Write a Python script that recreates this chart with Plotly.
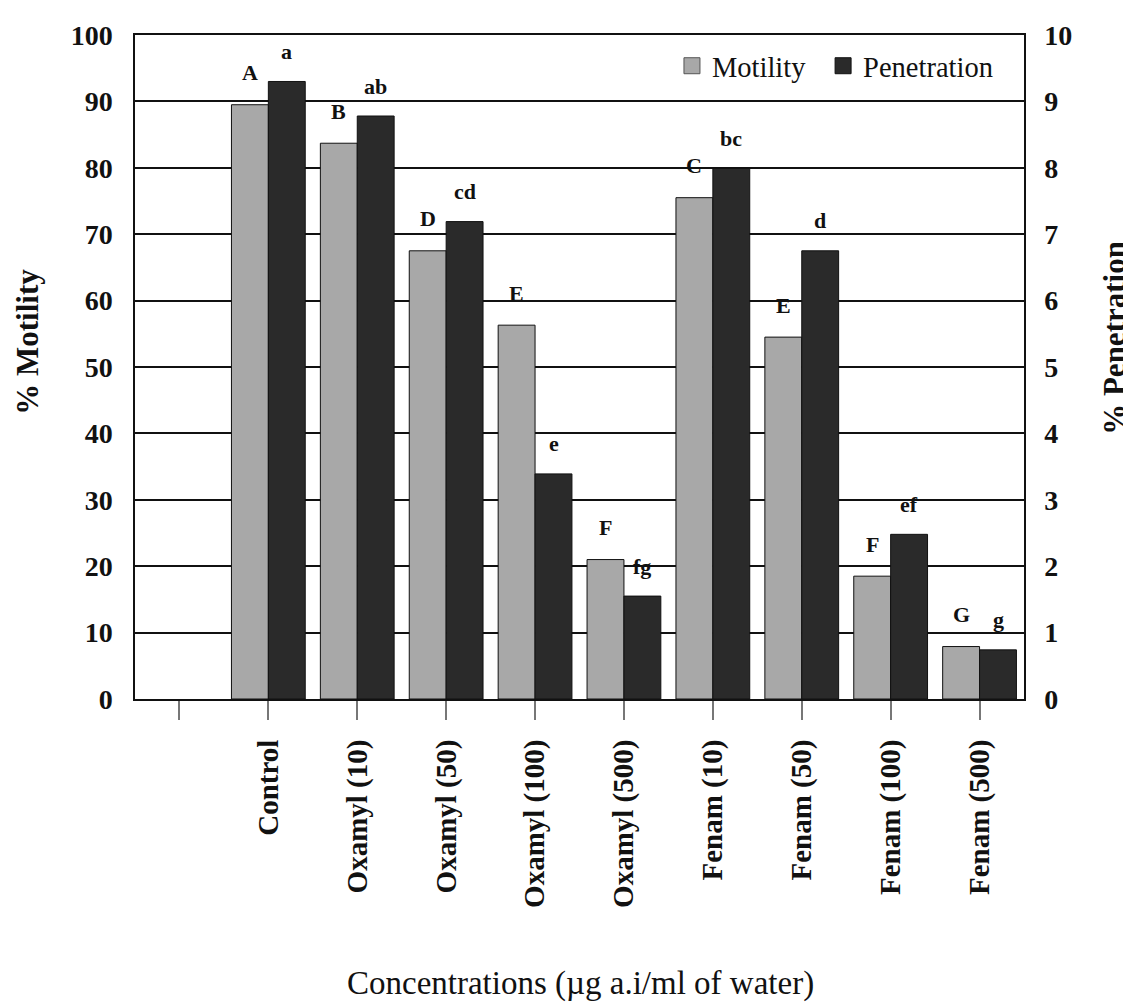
import plotly.graph_objects as go

categories = ["Control", "Oxamyl (10)", "Oxamyl (50)", "Oxamyl (100)", "Oxamyl (500)",
              "Fenam (10)", "Fenam (50)", "Fenam (100)", "Fenam (500)"]
motility = [89.5, 83.7, 67.5, 56.3, 21.0, 75.5, 54.5, 18.5, 7.9]
penetration = [9.30, 8.78, 7.19, 3.39, 1.55, 7.99, 6.75, 2.48, 0.74]
motility_letters = ["A", "B", "D", "E", "F", "C", "E", "F", "G"]
penetration_letters = ["a", "ab", "cd", "e", "fg", "bc", "d", "ef", "g"]
left_ticks = [0, 10, 20, 30, 40, 50, 60, 70, 80, 90, 100]
right_ticks = [0, 1, 2, 3, 4, 5, 6, 7, 8, 9, 10]

FONT = "Liberation Serif, Times New Roman, serif"
GRAY = "#a8a8a8"
DARK = "#2a2a2a"
cat_order = [" "] + categories

fig = go.Figure()
fig.add_trace(go.Bar(
    x=categories, y=motility, name="Motility", showlegend=False,
    marker=dict(color=GRAY, line=dict(color="#111", width=1)),
    offsetgroup="1", yaxis="y",
))
fig.add_trace(go.Bar(
    x=categories, y=penetration, name="Penetration", showlegend=False,
    marker=dict(color=DARK, line=dict(color="#111", width=1)),
    offsetgroup="2", yaxis="y2",
))
# legend entries (larger square swatches)
fig.add_trace(go.Scatter(x=[None], y=[None], mode="markers", name="Motility",
                         legend="legend",
                         marker=dict(symbol="square", size=18, color=GRAY,
                                     line=dict(color="#555", width=1))))
fig.add_trace(go.Scatter(x=[None], y=[None], mode="markers", name="Penetration",
                         legend="legend2",
                         marker=dict(symbol="square", size=18, color=DARK,
                                     line=dict(color="#111", width=1))))

annotations = []
for cat, val, lab in zip(categories, motility, motility_letters):
    annotations.append(dict(x=cat, y=val, xref="x", yref="y", text=f"<b>{lab}</b>",
                            showarrow=False, xshift=-18.5, yshift=32, yanchor="middle",
                            font=dict(family=FONT, size=22, color="#111")))
for cat, val, lab in zip(categories, penetration, penetration_letters):
    annotations.append(dict(x=cat, y=val, xref="x", yref="y2", text=f"<b>{lab}</b>",
                            showarrow=False, xshift=18.5, yshift=30, yanchor="middle",
                            font=dict(family=FONT, size=22, color="#111")))

annotations += [
    dict(text="Concentrations (µg a.i/ml of water)", xref="paper", yref="paper",
         x=0.5006, y=-0.428, xanchor="center", yanchor="middle", showarrow=False,
         font=dict(family=FONT, size=33, color="#111")),
    dict(text="<b>% Motility</b>", xref="paper", yref="paper",
         x=-0.1204, y=0.538, xanchor="center", yanchor="middle", showarrow=False,
         textangle=-90, font=dict(family=FONT, size=31, color="#111")),
    dict(text="<b>% Penetration</b>", xref="paper", yref="paper",
         x=1.1024, y=0.544, xanchor="center", yanchor="middle", showarrow=False,
         textangle=-90, font=dict(family=FONT, size=31, color="#111")),
]

legend_common = dict(orientation="h", yanchor="middle", y=0.953,
                     bgcolor="rgba(0,0,0,0)",
                     font=dict(family=FONT, size=28.5, color="#111"),
                     itemsizing="trace")

fig.update_layout(
    width=1123, height=1000,
    margin=dict(l=127, r=107, t=18, b=309),
    paper_bgcolor="white", plot_bgcolor="white",
    barmode="group", bargap=0.17, bargroupgap=0,
    font=dict(family=FONT, color="#111"),
    showlegend=True,
    legend=dict(x=0.604, xanchor="left", **legend_common),
    legend2=dict(x=0.774, xanchor="left", **legend_common),
    xaxis=dict(
        type="category", categoryorder="array", categoryarray=cat_order,
        range=[-0.5, 9.5],
        showline=True, linecolor="#111", linewidth=2, mirror=True,
        ticks="outside", ticklen=19, tickwidth=1.5, tickcolor="#777",
        tickangle=-90, ticklabelstandoff=8,
        tickfont=dict(family=FONT, size=29, color="#111", weight="bold"),
        showgrid=False, zeroline=False,
    ),
    yaxis=dict(
        range=[0, 100], tickvals=left_ticks,
        showline=True, linecolor="#111", linewidth=1.5,
        showgrid=True, gridcolor="#111", gridwidth=1.5,
        ticks="", ticklabelstandoff=15,
        tickfont=dict(family=FONT, size=28, color="#111", weight="bold"),
        zeroline=False,
    ),
    yaxis2=dict(
        range=[0, 10], tickvals=right_ticks, overlaying="y", side="right",
        showline=True, linecolor="#111", linewidth=1.5,
        showgrid=False, ticks="", ticklabelstandoff=13,
        tickfont=dict(family=FONT, size=28, color="#111", weight="bold"),
        zeroline=False,
    ),
    annotations=annotations,
)

fig.write_html("out.html")
